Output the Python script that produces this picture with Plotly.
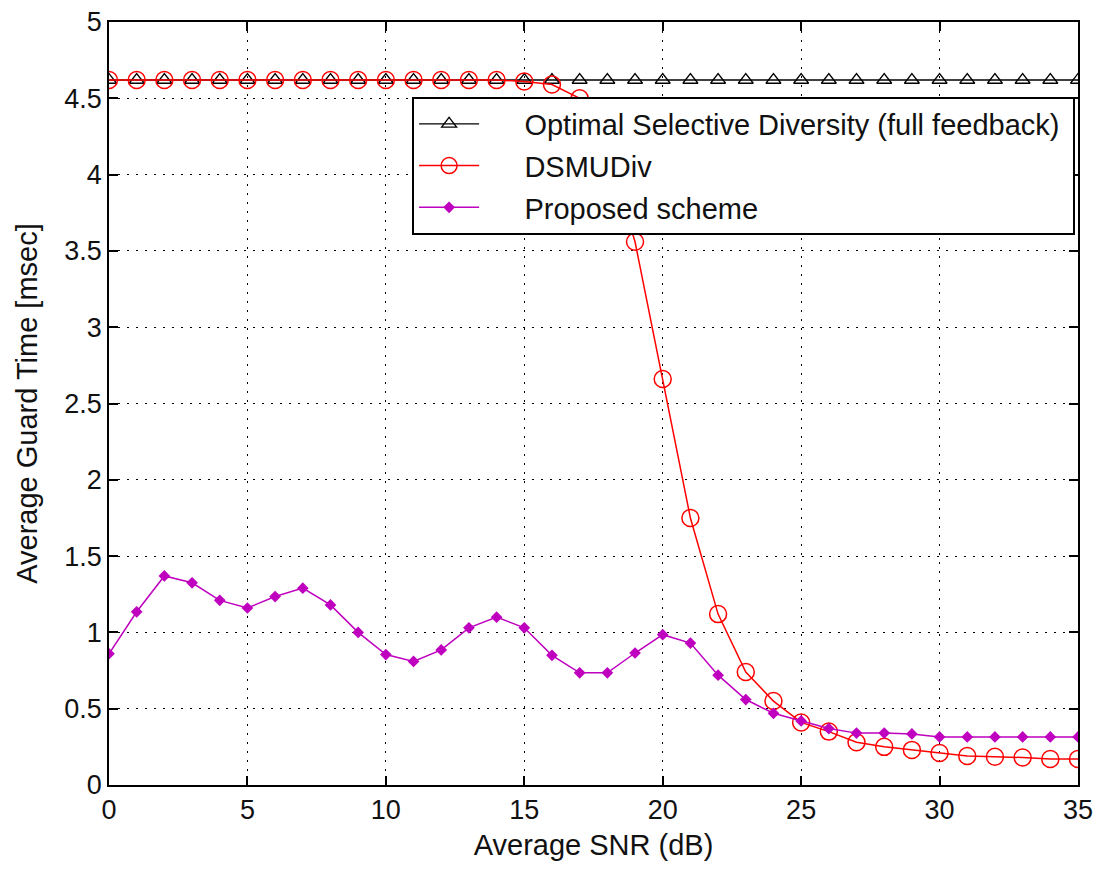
import plotly.graph_objects as go

snr = list(range(0, 36))

optimal = [4.62] * 36

dsmudiv = [4.62, 4.62, 4.62, 4.62, 4.62, 4.62, 4.62, 4.62, 4.62, 4.62,
           4.62, 4.62, 4.62, 4.62, 4.62, 4.61, 4.59, 4.50, 4.15, 3.56,
           2.66, 1.75, 1.12, 0.74, 0.55, 0.41, 0.35, 0.28, 0.25, 0.23,
           0.21, 0.19, 0.185, 0.18, 0.17, 0.17]

proposed = [0.86, 1.135, 1.37, 1.325, 1.21, 1.16, 1.235, 1.29, 1.18, 1.0,
            0.855, 0.81, 0.885, 1.03, 1.10, 1.03, 0.85, 0.735, 0.735, 0.865,
            0.985, 0.93, 0.72, 0.56, 0.47, 0.42, 0.37, 0.34, 0.34, 0.335,
            0.315, 0.315, 0.315, 0.315, 0.315, 0.315]

names = ["Optimal Selective Diversity (full feedback)", "DSMUDiv", "Proposed scheme"]
x_ticks = [0, 5, 10, 15, 20, 25, 30, 35]
y_ticks = [0, 0.5, 1, 1.5, 2, 2.5, 3, 3.5, 4, 4.5, 5]

FONT = "Liberation Sans, Arial, sans-serif"
PAD = "\u00a0" * 5

fig = go.Figure()
fig.add_trace(go.Scatter(
    x=snr, y=optimal, name=PAD + names[0] + "\u00a0", mode="lines+markers", legendgroup="a",
    line=dict(color="black", width=1.3),
    marker=dict(symbol="triangle-up-open", size=13, color="black", line=dict(width=1.3))))
fig.add_trace(go.Scatter(
    x=snr, y=dsmudiv, name=PAD + names[1], mode="lines+markers", legendgroup="b",
    line=dict(color="#ff0000", width=1.5),
    marker=dict(symbol="circle-open", size=17, color="#ff0000", line=dict(width=1.5))))
fig.add_trace(go.Scatter(
    x=snr, y=proposed, name=PAD + names[2], mode="lines+markers", legendgroup="c",
    line=dict(color="#bf00bf", width=1.5),
    marker=dict(symbol="diamond", size=9, color="#bf00bf")))

axis_common = dict(
    showline=True, mirror="ticks", linecolor="black", linewidth=1.8,
    ticks="inside", ticklen=9, tickcolor="black", tickwidth=1.8,
    showgrid=True, gridcolor="black", griddash="2px,7px", gridwidth=1,
    zeroline=False, ticklabeloverflow="allow", automargin=False,
    tickfont=dict(family=FONT, size=27, color="#111111"),
)

fig.update_xaxes(range=[0, 35], tickvals=x_ticks, ticktext=[str(v) for v in x_ticks],
                 title=dict(text="Average SNR (dB)", standoff=16,
                            font=dict(family=FONT, size=29, color="#111111")),
                 **axis_common)
fig.update_yaxes(range=[0, 5], tickvals=y_ticks, ticktext=[f"{v:g}" for v in y_ticks],
                 title=dict(text="Average Guard Time [msec]", standoff=18,
                            font=dict(family=FONT, size=29, color="#111111")),
                 **axis_common)

fig.update_layout(
    width=1085, height=853,
    margin=dict(l=101, r=15, t=14, b=76),
    paper_bgcolor="white", plot_bgcolor="white",
    showlegend=True,
    legend=dict(x=0.313, y=0.902, xanchor="left", yanchor="top",
                bgcolor="white", bordercolor="black", borderwidth=1.8,
                font=dict(family=FONT, size=29, color="#111111"),
                itemwidth=60, tracegroupgap=1),
)

fig.write_html("out.html")
